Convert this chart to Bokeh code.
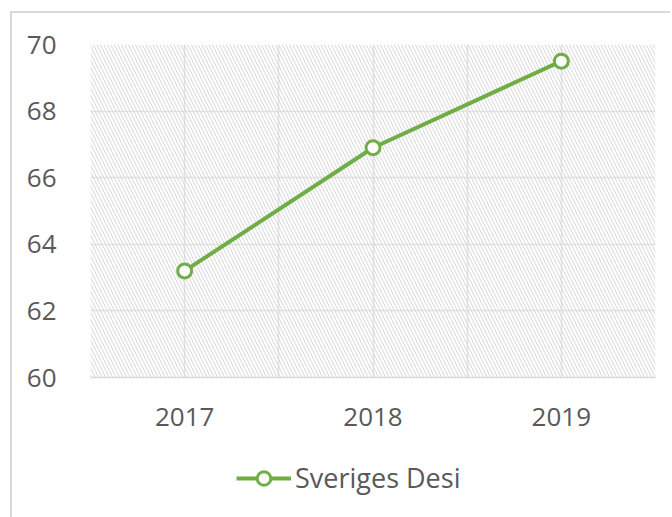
from bokeh.plotting import figure
from bokeh.layouts import column
from bokeh.models import (Range1d, FixedTicker, BoxAnnotation, Legend, LegendItem,
                          ColumnDataSource)
from bokeh.embed import file_html
from bokeh.resources import INLINE

years = [2017, 2018, 2019]
values = [63.2, 66.9, 69.5]
series_name = "Sveriges Desi"
y_ticks = [60, 62, 64, 66, 68, 70]

GREEN = "#70AD47"
TEXT = "#595959"
GRID = "#e3e3e3"
BORDER = "#d9d9d9"
FONT = "Open Sans"

p = figure(width=660, height=430, output_backend="svg", toolbar_location=None,
           x_range=Range1d(2016.5, 2019.5), y_range=Range1d(60, 70),
           min_border_left=78, min_border_right=17, min_border_top=31,
           min_border_bottom=66, margin=(11, 0, 0, 10),
           styles={"border-top": f"2px solid {BORDER}",
                   "border-left": f"2px solid {BORDER}"})
p.outline_line_color = None
p.background_fill_color = "white"
p.border_fill_color = "white"

# hatched plot area
p.add_layout(BoxAnnotation(fill_color=None, line_color=None,
                           hatch_pattern="\\", hatch_color="#d6d6d6",
                           hatch_scale=7, hatch_weight=1, level="underlay"))

src = ColumnDataSource(dict(x=years, y=values))
p.line("x", "y", source=src, line_color=GREEN, line_width=4)
p.scatter("x", "y", source=src, marker="circle", size=14,
          fill_color="white", line_color=GREEN, line_width=3)

# axes
p.xaxis.ticker = FixedTicker(ticks=years)
p.xaxis.major_tick_line_color = None
p.xaxis.minor_tick_line_color = None
p.xaxis.axis_line_color = BORDER
p.xaxis.axis_line_width = 1.5
p.xaxis.major_label_text_font = FONT
p.xaxis.major_label_text_font_size = "26px"
p.xaxis.major_label_text_color = TEXT
p.xaxis.major_label_standoff = 24

p.yaxis.ticker = FixedTicker(ticks=y_ticks)
p.yaxis.major_tick_line_color = None
p.yaxis.minor_tick_line_color = None
p.yaxis.axis_line_color = None
p.yaxis.major_label_text_font = FONT
p.yaxis.major_label_text_font_size = "26px"
p.yaxis.major_label_text_color = TEXT
p.yaxis.major_label_standoff = 28

# grid
p.xgrid.ticker = FixedTicker(ticks=[2016.5, 2017, 2017.5, 2018, 2018.5, 2019, 2019.5])
p.xgrid.grid_line_color = GRID
p.xgrid.grid_line_width = 1.5
p.ygrid.ticker = FixedTicker(ticks=[62, 64, 66, 68, 70])
p.ygrid.grid_line_color = GRID
p.ygrid.grid_line_width = 1.5

# legend strip below the chart (legend renderers sit outside the visible range)
lg = figure(width=660, height=76, output_backend="svg", toolbar_location=None,
            x_range=Range1d(0, 1), y_range=Range1d(0, 1),
            min_border=0, margin=(0, 0, 0, 10),
            styles={"border-left": f"2px solid {BORDER}"})
lg.axis.visible = False
lg.grid.visible = False
lg.outline_line_color = None
lg.border_fill_color = "white"
hidden = ColumnDataSource(dict(x=[-10, -9], y=[-10, -9]))
l_ln = lg.line("x", "y", source=hidden, line_color=GREEN, line_width=4)
l_mk = lg.scatter("x", "y", source=hidden, marker="circle", size=14,
                  fill_color="white", line_color=GREEN, line_width=3)
legend = Legend(items=[LegendItem(label=series_name, renderers=[l_ln, l_mk])],
                location=(146, 21), orientation="horizontal",
                label_text_font=FONT, label_text_font_size="27px",
                label_text_color=TEXT, glyph_width=55, glyph_height=34,
                label_standoff=4, border_line_color=None,
                background_fill_alpha=0, padding=0, margin=0, spacing=0)
lg.add_layout(legend, "center")

layout = column(p, lg, spacing=0)
open("out.html", "w").write(file_html(layout, INLINE))
